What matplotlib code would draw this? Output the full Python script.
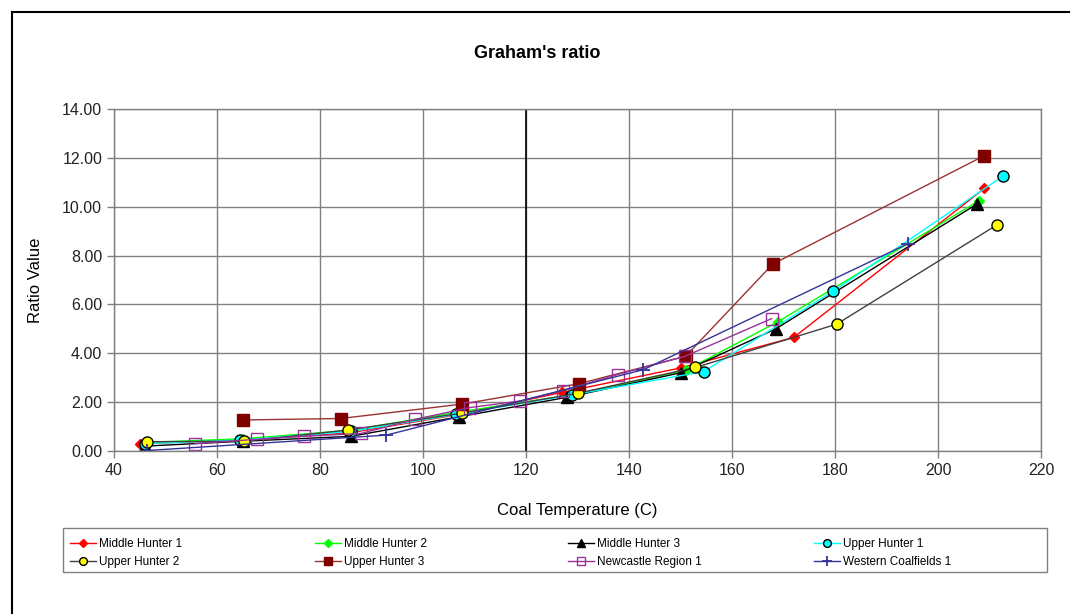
import matplotlib
matplotlib.use("Agg")
import matplotlib.pyplot as plt
from matplotlib.lines import Line2D
from matplotlib.patches import Rectangle

plt.rcParams['font.family'] = ['Liberation Sans', 'DejaVu Sans']

title = "Graham's ratio"
xlabel = "Coal Temperature (C)"
ylabel = "Ratio Value"
x_ticks = [40, 60, 80, 100, 120, 140, 160, 180, 200, 220]
y_ticks = [0, 2, 4, 6, 8, 10, 12, 14]

mh1_x = [45, 65, 86, 107, 127, 150, 172, 209]
mh1_y = [0.30, 0.45, 0.75, 1.50, 2.40, 3.40, 4.65, 10.75]
mh2_x = [46, 65, 86, 107, 129, 151, 169, 208]
mh2_y = [0.35, 0.50, 0.85, 1.60, 2.30, 3.30, 5.30, 10.25]
mh3_x = [46, 65, 86, 107, 128, 150, 168.5, 207.5]
mh3_y = [0.20, 0.40, 0.60, 1.40, 2.20, 3.20, 5.00, 10.10]
uh1_x = [46, 64.5, 86, 106.5, 129, 154.5, 179.7, 212.6]
uh1_y = [0.30, 0.45, 0.80, 1.50, 2.30, 3.25, 6.55, 11.25]
uh2_x = [46.4, 65.3, 85.5, 107.5, 130, 152.9, 180.3, 211.4]
uh2_y = [0.38, 0.40, 0.86, 1.55, 2.36, 3.42, 5.19, 9.25]
uh3_x = [65, 84, 107.6, 130.2, 151, 167.9, 208.9]
uh3_y = [1.27, 1.33, 1.92, 2.75, 3.88, 7.65, 12.08]
nc1_x = [55.7, 67.8, 76.9, 88, 98.5, 109.2, 118.9, 127.1, 137.8, 150.8, 167.7]
nc1_y = [0.30, 0.48, 0.60, 0.72, 1.30, 1.78, 2.05, 2.47, 3.13, 3.87, 5.42]
wc1_x = [46.5, 92.9, 142.8, 194.1]
wc1_y = [0.02, 0.65, 3.33, 8.48]

W, H = 1070, 614
fig = plt.figure(figsize=(W/100, H/100), dpi=100)
ax = fig.add_axes([114/W, 1-451/H, (1041-114)/W, (451-109)/H])

# outer frame (left and top visible)
fig.add_artist(Line2D([12/W, 12/W], [0, 1-12/H], transform=fig.transFigure, color='black', lw=1.5))
fig.add_artist(Line2D([12/W, 1], [1-12/H, 1-12/H], transform=fig.transFigure, color='black', lw=1.5))

ax.set_xlim(40, 220)
ax.set_ylim(0, 14)
ax.set_xticks(x_ticks)
ax.set_yticks(y_ticks)
ax.set_yticklabels([f"{v:.2f}" for v in y_ticks])
ax.grid(True, color='#808080', lw=1.0)
ax.set_axisbelow(True)
ax.axvline(120, color='black', lw=1.2, zorder=1)
for s in ax.spines.values():
    s.set_color('#808080')
    s.set_linewidth(1.0)
ax.tick_params(axis='both', colors='#808080', labelcolor='#222222', labelsize=11.5, length=5, width=1)

series = [
    ("Middle Hunter 1", mh1_x, mh1_y, dict(color='#FF0000', marker='D', ms=5.5, mfc='#FF0000', mec='#FF0000')),
    ("Middle Hunter 2", mh2_x, mh2_y, dict(color='#00FF00', marker='D', ms=5.5, mfc='#00FF00', mec='#00FF00')),
    ("Middle Hunter 3", mh3_x, mh3_y, dict(color='#000000', marker='^', ms=8, mfc='#000000', mec='#000000')),
    ("Upper Hunter 1", uh1_x, uh1_y, dict(color='#00FFFF', marker='o', ms=8, mfc='#00FFFF', mec='#000000')),
    ("Upper Hunter 2", uh2_x, uh2_y, dict(color='#404040', marker='o', ms=8, mfc='#FFFF00', mec='#000000')),
    ("Upper Hunter 3", uh3_x, uh3_y, dict(color='#993333', marker='s', ms=8, mfc='#800000', mec='#800000')),
    ("Newcastle Region 1", nc1_x, nc1_y, dict(color='#993399', marker='s', ms=8, mfc='none', mec='#993399')),
    ("Western Coalfields 1", wc1_x, wc1_y, dict(color='#333399', marker='+', ms=10, mew=1.3)),
]
handles = []
for name, xs, ys, st in series:
    h, = ax.plot(xs, ys, lw=1.0, label=name, **st)
    handles.append(h)

fig.text(537/W, 1-53/H, title, ha='center', va='center', fontsize=13, fontweight='bold')
ax.set_xlabel(xlabel, fontsize=12, labelpad=18)
ax.set_ylabel(ylabel, fontsize=12, labelpad=14)

# legend frame
fig.add_artist(Rectangle((63/W, 1-572/H), (1047-63)/W, 44/H, transform=fig.transFigure,
                         facecolor='white', edgecolor='#808080', lw=1.0))
col_x = [64, 309, 562, 808]
for c in range(4):
    idx = [c, c + 4]
    lg = fig.legend([handles[i] for i in idx], [series[i][0] for i in idx],
                    loc='upper left', bbox_to_anchor=(col_x[c]/W, 1-532/H),
                    fontsize=8.5, frameon=False, handlelength=2.2, handletextpad=0.3,
                    borderpad=0.0, labelspacing=0.5, markerscale=0.7)

fig.savefig('out.png', dpi=100)
